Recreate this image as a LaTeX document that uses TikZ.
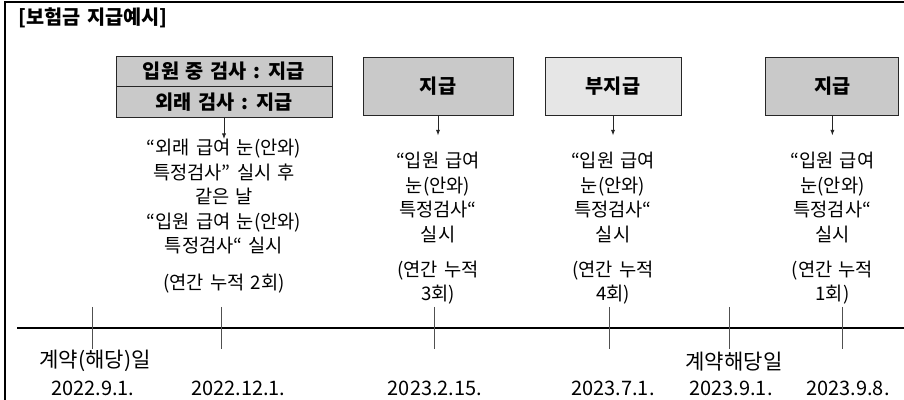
\documentclass[tikz,border=0pt]{standalone}
\usepackage{fontspec}
\setmainfont[WordSpace=1.5]{Noto Sans CJK KR}
\usepackage{tikz}
\usetikzlibrary{arrows.meta,positioning}
\definecolor{PayGray}{HTML}{C9C9C9}
\definecolor{SkipGray}{HTML}{E6E6E6}
\definecolor{TickGray}{HTML}{505050}
\tikzset{
  figtitle/.style={font=\bfseries\fontsize{14}{17}\selectfont, anchor=west, inner sep=0pt},
  paybox/.style={draw=black!85, line width=0.6pt, fill=PayGray, font=\bfseries\fontsize{14}{16}\selectfont, align=center, inner sep=0pt},
  skipbox/.style={paybox, fill=SkipGray},
  notetext/.style={font=\fontsize{13.3}{17.4}\selectfont, align=center, inner sep=0pt},
  eventtext/.style={font=\fontsize{15}{17}\selectfont, inner sep=0pt},
  datetext/.style={font=\fontsize{14.2}{17}\selectfont, inner sep=0pt},
  figarrow/.style={-{Latex[length=4pt,width=3pt]}, line width=0.6pt, draw=black!85},
  tickline/.style={line width=0.6pt, draw=TickGray},
  axisline/.style={line width=0.8pt, draw=black}
}

\begin{document}
\begin{tikzpicture}
\useasboundingbox (0,0) rectangle (22.6,-10);
\draw[line width=0.8pt] (0.125,-10) -- (0.125,-0.05) -- (22.6,-0.05);
\node[figtitle] (title) at (0.45,-0.45) {[보험금 지급예시]};
% payment boxes
\node[paybox, minimum width=5.4cm, minimum height=0.75cm] (pay1a) at (5.6,-1.775) {입원 중 검사 : 지급};
\node[paybox, minimum width=5.4cm, minimum height=0.775cm, below=0pt of pay1a] (pay1b) {외래 검사 : 지급};
\node[paybox, minimum width=3.75cm, minimum height=1.45cm] (pay2) at (10.95,-2.15) {지급};
\node[skipbox, minimum width=3.4cm, minimum height=1.45cm] (pay3) at (15.325,-2.15) {부지급};
\node[paybox, minimum width=3.325cm, minimum height=1.45cm] (pay4) at (20.81,-2.15) {지급};
% notes under the boxes
\node[notetext, below=0.52cm of pay1b] (note1) {“외래 급여 눈(안와)\\특정검사” 실시 후\\같은 날\\“입원 급여 눈(안와)\\특정검사“ 실시\\[9pt](연간 누적 2회)};
\node[notetext, below=0.92cm of pay2] (note2) {“입원 급여\\눈(안와)\\특정검사“\\실시\\[7.5pt](연간 누적\\3회)};
\node[notetext, below=0.92cm of pay3] (note3) {“입원 급여\\눈(안와)\\특정검사“\\실시\\[7.5pt](연간 누적\\4회)};
\node[notetext, below=0.92cm of pay4] (note4) {“입원 급여\\눈(안와)\\특정검사“\\실시\\[7.5pt](연간 누적\\1회)};
\draw[figarrow] (pay1b) -- (note1);
\draw[figarrow, shorten >=0.42cm] (pay2) -- (note2);
\draw[figarrow, shorten >=0.42cm] (pay3) -- (note3);
\draw[figarrow, shorten >=0.42cm] (pay4) -- (note4);
% time line
\draw[axisline] (0.425,-8.2) -- (22.6,-8.2);
\foreach \tx in {2.3,5.525,10.85,15.225,18.225,21.05}
  \draw[tickline] (\tx,-7.675) -- (\tx,-8.725);
\node[eventtext] (start) at (2.375,-9.03) {계약(해당)일};
\node[eventtext] (renew) at (18.35,-9.03) {계약해당일};
\node[datetext] (d1) at (2.32,-9.7) {2022.9.1.};
\node[datetext] (d2) at (5.96,-9.7) {2022.12.1.};
\node[datetext] (d3) at (10.875,-9.7) {2023.2.15.};
\node[datetext] (d4) at (15.325,-9.7) {2023.7.1.};
\node[datetext] (d5) at (18.275,-9.7) {2023.9.1.};
\node[datetext] (d6) at (21.2,-9.7) {2023.9.8.};
\end{tikzpicture}
\end{document}
